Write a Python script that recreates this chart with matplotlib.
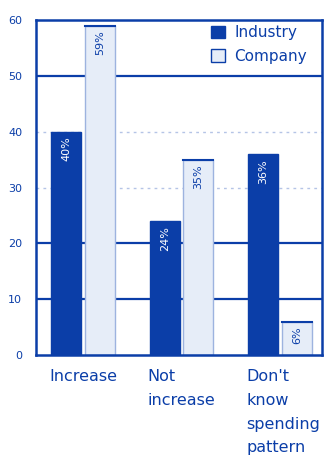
import matplotlib
matplotlib.use("Agg")
import matplotlib.pyplot as plt
import numpy as np
from matplotlib.transforms import blended_transform_factory
from matplotlib.patches import Patch

categories = ["Increase", "Not\nincrease", "Don't\nknow\nspending\npattern"]
industry = [40, 24, 36]
company = [59, 35, 6]
yticks = [0, 10, 20, 30, 40, 50, 60]
series_names = ["Industry", "Company"]

BLUE = "#0b3ea8"
LIGHT = "#e6edf8"

fig = plt.figure(figsize=(3.28, 4.62), dpi=100)
ax = fig.add_axes([36/328, 1-355/462, (322-36)/328, (355-20)/462])

x = np.arange(len(categories))
w = 0.305
gap = 0.035
ax.set_xlim(-0.477, 2.426)
ax.set_ylim(0, 60)

# grid
for v in [10, 20, 50]:
    ax.axhline(v, color=BLUE, lw=1.6, zorder=1)
for v in [30, 40]:
    ax.axhline(v, color="#b5c4e6", lw=1.0, ls=(0, (2, 3)), zorder=1)

b1 = ax.bar(x - w/2 - gap/2, industry, w, color=BLUE, edgecolor=BLUE, lw=1, zorder=2)
b2 = ax.bar(x + w/2 + gap/2, company, w, color=LIGHT, edgecolor="#9db3df", lw=1, zorder=2)
for rect in b2:
    ax.plot([rect.get_x(), rect.get_x()+rect.get_width()], [rect.get_height()]*2,
            color=BLUE, lw=1.5, zorder=3)

for rect, v in zip(b1, industry):
    ax.text(rect.get_x()+rect.get_width()/2, v-0.9, f"{v}%", rotation=90,
            ha="center", va="top", color="white", fontsize=8, zorder=4)
for rect, v in zip(b2, company):
    ax.text(rect.get_x()+rect.get_width()/2, v-0.9, f"{v}%", rotation=90,
            ha="center", va="top", color=BLUE, fontsize=8, zorder=4)

for s in ax.spines.values():
    s.set_color(BLUE)
    s.set_linewidth(1.8)

ax.set_yticks(yticks)
ax.set_yticklabels([str(t) for t in yticks], color=BLUE, fontsize=8)
ax.tick_params(axis="y", length=0, pad=10)
ax.set_xticks([])

trans = blended_transform_factory(ax.transData, ax.transAxes)
for xi, lab in zip(x, categories):
    ax.text(xi - w - gap/2 - 0.02, -0.043, lab, transform=trans, ha="left", va="top",
            color=BLUE, fontsize=11.5, linespacing=1.72)

handles = [Patch(facecolor=BLUE, edgecolor=BLUE), Patch(facecolor=LIGHT, edgecolor=BLUE)]
leg = ax.legend(handles, series_names, loc="upper right", bbox_to_anchor=(0.965, 1.0),
                frameon=False, fontsize=11,
                handlelength=0.9, handleheight=0.9, handletextpad=0.6, labelspacing=0.55,
                borderaxespad=0.0, borderpad=0.35, labelcolor=BLUE)

fig.savefig("out.png", dpi=100)
